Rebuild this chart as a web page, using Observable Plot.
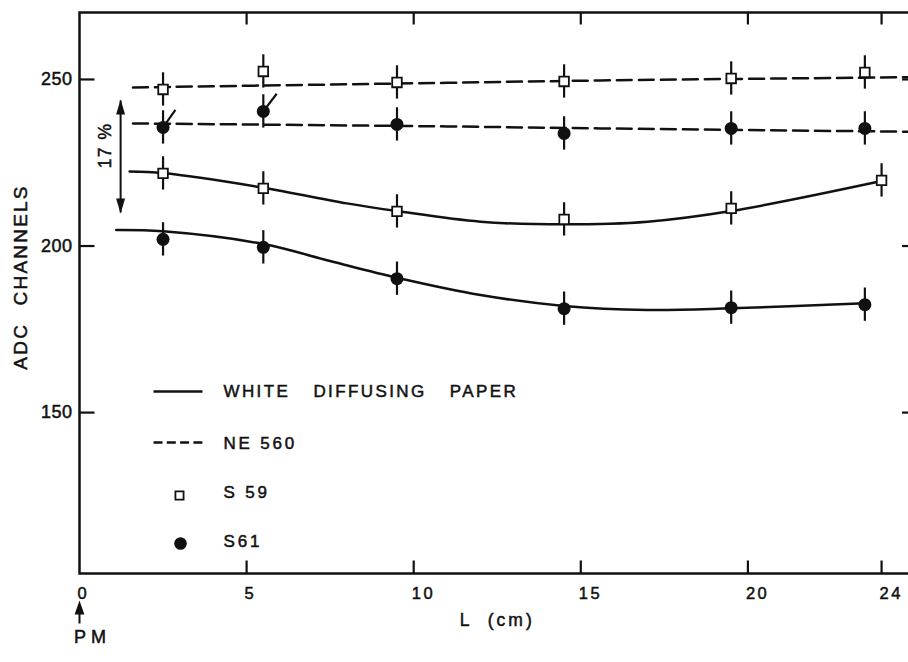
<!DOCTYPE html>
<html>
<head>
<meta charset="utf-8">
<script src="https://cdn.jsdelivr.net/npm/d3@7"></script>
<script src="https://cdn.jsdelivr.net/npm/@observablehq/plot@0.6"></script>
<style>
  html, body { margin: 0; padding: 0; background: #fff; overflow: hidden; }
  #chart svg { display: block; }
  #chart svg text { stroke: #111; stroke-width: 0.5px; }
</style>
</head>
<body>
<div id="chart"></div>
<script>
// ---- Data ----
const positions = [2.5, 5.5, 9.5, 14.5, 19.5, 23.5];          // L (cm) of measured points
const ne560_S59 = [247.0, 252.4, 249.1, 249.4, 250.3, 252.1];  // NE 560, S 59 (squares)
const ne560_S61 = [235.6, 240.4, 236.5, 233.8, 235.3, 235.3];  // NE 560, S61 (dots)
const paperPositionsS59 = [2.5, 5.5, 9.5, 14.5, 19.5, 24.0];
const paper_S59 = [221.8, 217.3, 210.4, 208.0, 211.3, 219.7];  // white paper, S 59
const paper_S61 = [202.0, 199.6, 190.2, 181.2, 181.5, 182.4];  // white paper, S61
const errorHalf = [5, 5, 5, 5, 5, 5];                           // error bars (± ADC channels)

// drawn fit curves
const fitNE59_x = [1.6, 11, 15.6, 25];
const fitNE59_y = [247.6, 249.0, 249.7, 250.7];
const fitNE61_x = [1.6, 11, 15.6, 25];
const fitNE61_y = [236.8, 235.9, 235.3, 234.3];
const fitP59_x = [1.5, 2.5, 5.5, 8, 9.5, 12, 14.5, 17, 19.5, 24];
const fitP59_y = [222.4, 221.9, 217.5, 212.8, 210.5, 207.3, 206.5, 207.3, 210.5, 219.5];
const fitP61_x = [1.1, 2.5, 5.5, 7.5, 9.5, 12, 14.5, 17, 19.5, 23.5];
const fitP61_y = [204.8, 204.4, 200.6, 195.5, 190.5, 185.3, 182.0, 180.8, 181.3, 182.8];

// annotations
const slashStartX = [2.5, 5.5];
const slashStartY = [235.6, 240.4];
const slashEndX = [2.87, 5.9];
const slashEndY = [240.9, 245.7];
const pctArrowX = [1.23];
const pctArrowLo = [210.1];
const pctArrowHi = [243.7];
const pctLabel = ["17 %"];
const pctLabelX = [0.78];
const pctLabelY = [230.2];

// axes
const xTicks = [5, 10, 15, 20, 24];
const xTickLabels = [0, 5, 10, 15, 20, 24];
const yTicks = [150, 200, 250];
const legendLabels = ["WHITE DIFFUSING PAPER", "NE 560", "S 59", "S61"];
const yTitle = "ADC CHANNELS";
const xTitle = "L (cm)";
const pmLabel = "PM";

// ---- Build tables ----
const pts = (xs, ys) => xs.map((x, i) => ({x, y: ys[i], e: errorHalf[i]}));
const ptsNE59 = pts(positions, ne560_S59);
const ptsNE61 = pts(positions, ne560_S61);
const ptsP59 = pts(paperPositionsS59, paper_S59);
const ptsP61 = pts(positions, paper_S61);
const curve = (xs, ys) => xs.map((x, i) => ({x, y: ys[i]}));
const slashes = slashStartX.map((x, i) => ({x1: x, y1: slashStartY[i], x2: slashEndX[i], y2: slashEndY[i]}));
const pctArrow = pctArrowX.map((x, i) => ({x, lo: pctArrowLo[i], hi: pctArrowHi[i]}));
const pctText = pctLabel.map((t, i) => ({t, x: pctLabelX[i], y: pctLabelY[i]}));

// ---- Custom symbols ----
const tickUp = {draw(c) { c.moveTo(0, 0); c.lineTo(0, -13); }};
const tickDown = {draw(c) { c.moveTo(0, 0); c.lineTo(0, 12); }};
const tickIn = {draw(c) { c.moveTo(0, 0); c.lineTo(15, 0); }};
const tickInR = {draw(c) { c.moveTo(0, 0); c.lineTo(-13, 0); }};
const headUp = {draw(c) { c.moveTo(0, -1); c.lineTo(4.5, 14); c.lineTo(-4.5, 14); c.closePath(); }};
const headDown = {draw(c) { c.moveTo(0, 1); c.lineTo(4.5, -14); c.lineTo(-4.5, -14); c.closePath(); }};
const hLine = {draw(c) { c.moveTo(-24.5, 0); c.lineTo(24.5, 0); }};
const pmArrow = {draw(c) { c.moveTo(0, 0); c.lineTo(3.5, 10); c.lineTo(-3.5, 10); c.closePath(); c.moveTo(0, 8); c.lineTo(0, 20); }};

const black = "#111";
const lw = 2.5;
const errorBars = (data) => Plot.ruleX(data, {x: "x", y1: d => d.y - d.e, y2: d => d.y + d.e, stroke: black, strokeWidth: 2.2});
const legendText = (label, dy) => Plot.text([label], {text: d => d, frameAnchor: "bottom-left", dx: 144, dy, textAnchor: "start", lineAnchor: "middle", fontSize: 17, fill: black});

const chart = Plot.plot({
  width: 908,
  height: 662,
  marginLeft: 79,
  marginRight: -6.5,
  marginTop: 12,
  marginBottom: 89,
  x: {domain: [0, 25], axis: null},
  y: {domain: [101.7, 270.1], axis: null},
  style: {fontFamily: "'Liberation Sans', Arial, sans-serif", background: "#fff", color: black},
  marks: [
    // fit curves
    Plot.line(curve(fitNE59_x, fitNE59_y), {x: "x", y: "y", stroke: black, strokeWidth: lw, strokeDasharray: "15,7", curve: "catmull-rom"}),
    Plot.line(curve(fitNE61_x, fitNE61_y), {x: "x", y: "y", stroke: black, strokeWidth: lw, strokeDasharray: "15,7", curve: "catmull-rom"}),
    Plot.line(curve(fitP59_x, fitP59_y), {x: "x", y: "y", stroke: black, strokeWidth: lw, curve: "catmull-rom"}),
    Plot.line(curve(fitP61_x, fitP61_y), {x: "x", y: "y", stroke: black, strokeWidth: lw, curve: "catmull-rom"}),
    // error bars
    errorBars(ptsNE59), errorBars(ptsNE61), errorBars(ptsP59), errorBars(ptsP61),
    // slashes on two S61 points
    Plot.link(slashes, {x1: "x1", y1: "y1", x2: "x2", y2: "y2", stroke: black, strokeWidth: 2.2}),
    // markers
    Plot.dot(ptsNE59, {x: "x", y: "y", symbol: "square", r: 5.4, fill: "white", stroke: black, strokeWidth: 1.8}),
    Plot.dot(ptsP59, {x: "x", y: "y", symbol: "square", r: 5.4, fill: "white", stroke: black, strokeWidth: 1.8}),
    Plot.dot(ptsNE61, {x: "x", y: "y", r: 6.5, fill: black, stroke: "none"}),
    Plot.dot(ptsP61, {x: "x", y: "y", r: 6.5, fill: black, stroke: "none"}),
    // 17 % double arrow
    Plot.link(pctArrow, {x1: "x", x2: "x", y1: "lo", y2: "hi", stroke: black, strokeWidth: 2}),
    Plot.dot(pctArrow, {x: "x", y: "hi", symbol: headUp, fill: black, stroke: "none"}),
    Plot.dot(pctArrow, {x: "x", y: "lo", symbol: headDown, fill: black, stroke: "none"}),
    Plot.text(pctText, {x: "x", y: "y", text: "t", rotate: -90, fontSize: 17.5, fill: black}),
    // frame and ticks
    Plot.frame({stroke: black, strokeWidth: 2.5}),
    Plot.dot(xTicks, {x: d => d, frameAnchor: "bottom", symbol: tickUp, fill: "none", stroke: black, strokeWidth: 2.2}),
    Plot.dot(xTicks, {x: d => d, frameAnchor: "top", symbol: tickDown, fill: "none", stroke: black, strokeWidth: 2.2}),
    Plot.dot(yTicks, {y: d => d, frameAnchor: "left", symbol: tickIn, fill: "none", stroke: black, strokeWidth: 2.2}),
    Plot.dot(yTicks, {y: d => d, frameAnchor: "right", symbol: tickInR, fill: "none", stroke: black, strokeWidth: 2.2}),
    // tick labels
    Plot.text(xTickLabels, {x: d => d, text: d => String(d), frameAnchor: "bottom", dy: 20, dx: -2, textAnchor: "start", lineAnchor: "middle", fontSize: 16.5, fill: black}),
    Plot.text(yTicks, {y: d => d, text: d => String(d), frameAnchor: "left", dx: -7, textAnchor: "end", lineAnchor: "middle", fontSize: 18, fill: black}),
    // axis titles
    Plot.text([yTitle], {text: d => d, frameAnchor: "left", dx: -59, dy: -16, rotate: -90, textAnchor: "middle", lineAnchor: "middle", fontSize: 19, fill: black}),
    Plot.text([xTitle], {text: d => d, frameAnchor: "bottom", dy: 47, textAnchor: "middle", lineAnchor: "middle", fontSize: 17.5, fill: black}),
    Plot.text([pmLabel], {text: d => d, frameAnchor: "bottom-left", dx: 13, dy: 64, textAnchor: "middle", lineAnchor: "middle", fontSize: 18, fill: black}),
    Plot.dot([0], {frameAnchor: "bottom-left", dy: 30, symbol: pmArrow, fill: black, stroke: black, strokeWidth: 2}),
    // legend
    Plot.dot([0], {frameAnchor: "bottom-left", dx: 98.5, dy: -182, symbol: hLine, fill: "none", stroke: black, strokeWidth: lw}),
    Plot.dot([0], {frameAnchor: "bottom-left", dx: 98.5, dy: -131, symbol: hLine, fill: "none", stroke: black, strokeWidth: lw, strokeDasharray: "9,4.3"}),
    Plot.dot([0], {frameAnchor: "bottom-left", dx: 100, dy: -78, symbol: "square", r: 4.6, fill: "white", stroke: black, strokeWidth: 1.8}),
    Plot.dot([0], {frameAnchor: "bottom-left", dx: 101, dy: -30, r: 6.3, fill: black, stroke: "none"}),
    legendText(legendLabels[0], -182),
    legendText(legendLabels[1], -130),
    legendText(legendLabels[2], -81),
    legendText(legendLabels[3], -32)
  ]
});

// letter / word spacing of the lettering
const spacing = new Map([
  [legendLabels[0], ["2.4px", "16px"]],
  [legendLabels[1], ["2.8px", "0px"]],
  [legendLabels[2], ["2.8px", "0px"]],
  [legendLabels[3], ["2.8px", "0px"]],
  [yTitle, ["2.2px", "10px"]],
  [xTitle, ["3px", "8px"]],
  [pmLabel, ["5px", "0px"]],
  [pctLabel[0], ["1.5px", "0px"]]
]);
const yTickStrings = yTicks.map(String);
const xTickStrings = xTickLabels.map(String);
for (const t of chart.querySelectorAll("text")) {
  const s = t.textContent;
  if (spacing.has(s)) {
    const [ls, ws] = spacing.get(s);
    t.style.letterSpacing = ls;
    t.style.wordSpacing = ws;
  } else if (yTickStrings.includes(s)) {
    t.style.letterSpacing = "0.5px";
  } else if (xTickStrings.includes(s)) {
    t.style.letterSpacing = "2.5px";
  }
}
document.getElementById("chart").append(chart);
</script>
</body>
</html>
